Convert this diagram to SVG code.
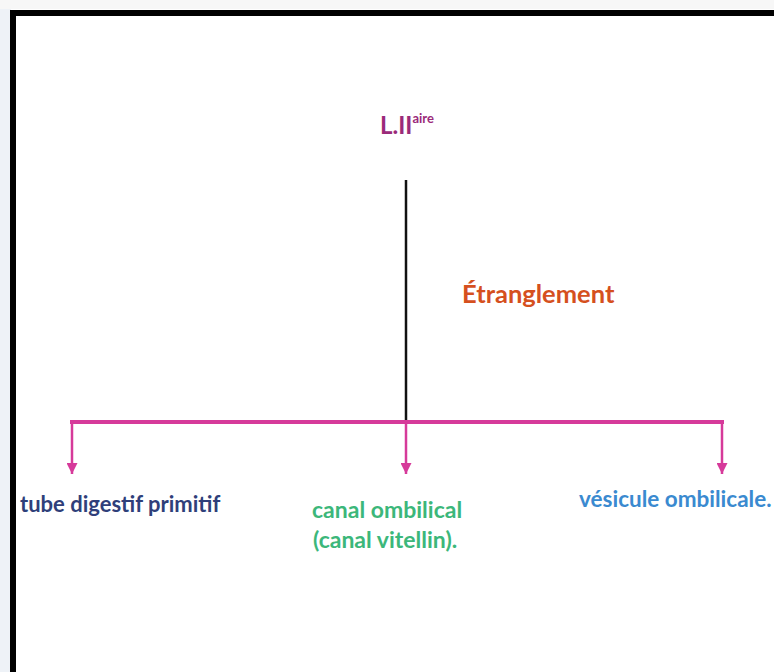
<svg xmlns="http://www.w3.org/2000/svg" width="774" height="672" viewBox="0 0 774 672">
<style>
.t{font-family:Lato,"Open Sans","Liberation Sans",sans-serif;font-weight:bold}
.pk{stroke:#D63A9A;fill:none}
</style>
<defs>
<marker id="ah" viewBox="0 0 10 10" refX="10" refY="5" markerWidth="11" markerHeight="11" markerUnits="userSpaceOnUse" orient="auto">
<path d="M0,0 L10,5 L0,10 z" fill="#D63A9A"/>
</marker>
</defs>
<rect width="774" height="672" fill="#ffffff"/>
<rect x="0" y="0" width="11" height="672" fill="#EEF2F7"/>
<rect x="0" y="0" width="774" height="9" fill="#F7F7F7"/>
<path d="M13,672 V13 H774" stroke="#000" stroke-width="6" fill="none"/>
<g id="connectors">
<line x1="406" y1="180" x2="406" y2="422" stroke="#111" stroke-width="2.5"/>
<line class="pk" x1="70" y1="422" x2="724" y2="422" stroke-width="4"/>
<line class="pk" x1="72" y1="420" x2="72" y2="474" stroke-width="2.5" marker-end="url(#ah)"/>
<line class="pk" x1="406" y1="422" x2="406" y2="474" stroke-width="2.5" marker-end="url(#ah)"/>
<line class="pk" x1="722" y1="420" x2="722" y2="474" stroke-width="2.5" marker-end="url(#ah)"/>
</g>
<g id="root">
<text class="t" x="380" y="134" font-size="24" fill="#9B2A7A">L.II<tspan font-size="13" dy="-11">aire</tspan></text>
</g>
<g id="label">
<text class="t" x="462" y="303" font-size="25.5" fill="#D5501E">Étranglement</text>
</g>
<g id="n1">
<text class="t" x="20" y="512" font-size="22" fill="#2F3F7A">tube digestif primitif</text>
</g>
<g id="n2">
<text class="t" x="312" y="518" font-size="23" fill="#3CB77A">canal ombilical</text>
<text class="t" x="313" y="548" font-size="23" fill="#3CB77A">(canal vitellin).</text>
</g>
<g id="n3">
<text class="t" x="579" y="507" font-size="22.5" fill="#3A8AD0">vésicule ombilicale.</text>
</g>
</svg>
